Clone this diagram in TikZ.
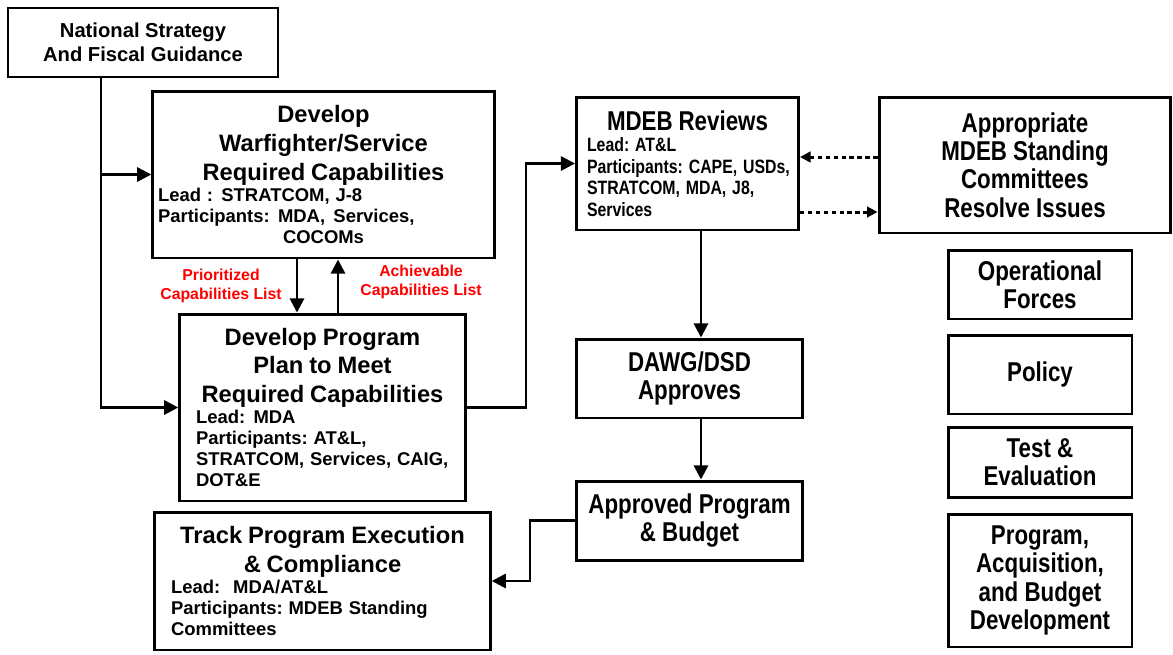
\documentclass[tikz,border=0pt]{standalone}
\usepackage{fontspec}
\setmainfont{Liberation Sans}
\newfontfamily\narrowbold[FakeStretch=0.82]{Liberation Sans Bold}
\usepackage{xcolor}
\usetikzlibrary{arrows.meta, positioning}
\frenchspacing

\newcommand{\headtxt}{\fontsize{13.5pt}{16.4pt}\selectfont\bfseries}
\newcommand{\infotxt}{\fontsize{10.5pt}{12pt}\selectfont\bfseries}
\newcommand{\narrowhead}{\narrowbold\fontsize{15.5pt}{16.2pt}\selectfont}
\newcommand{\narrowinfo}{\narrowbold\fontsize{11pt}{12.3pt}\selectfont}
\newcommand{\gap}{\hspace{0.45em}}

\begin{document}
\begin{tikzpicture}[
    x=0.02cm, y=-0.02cm,
    >={Triangle[length=8pt,width=8pt]},
    box/.style={
        rectangle,
        draw=black,
        line width=1.7pt,
        inner sep=3pt,
        align=center
    },
    infobox/.style={box, text width=#1},
    sidebox/.style={box, font=\narrowhead, minimum width=3.68cm},
    arrow/.style={->, line width=1.5pt},
    dotarrow/.style={->, line width=1.7pt, dash pattern=on 2.5pt off 2pt,
        >={Triangle[length=6pt,width=6pt]}},
    redlabel/.style={text=red, align=center,
        font=\fontsize{9pt}{10.5pt}\selectfont\bfseries}
]
\useasboundingbox (0,0) rectangle (1173,654);

% Nodes
\node (nat) [box, line width=1.2pt, minimum width=5.4cm, minimum height=1.38cm,
    font=\fontsize{11.5pt}{13.6pt}\selectfont\bfseries] at (143,42.5)
{National Strategy\\And Fiscal Guidance};

\node (dev) [infobox=6.62cm, minimum height=3.34cm] at (323.5,174.5)
{{\centering\headtxt Develop\\Warfighter/Service\\Required Capabilities\par}
{\raggedright\infotxt Lead :\gap STRATCOM, J-8\\
Participants:\gap MDA,\gap Services,\\
\hspace*{2.5cm}COCOMs\par}};

\node (plan) [infobox=5.5cm, minimum height=3.74cm] at (322.5,407.5)
{{\centering\headtxt Develop Program\\Plan to Meet\\Required Capabilities\par}
{\raggedright\leftskip=0.22cm\infotxt Lead:\gap MDA\\
Participants: AT\&L,\\
STRATCOM, Services, CAIG,\\
DOT\&E\par}};

\node (track) [infobox=6.5cm, minimum height=2.76cm] at (322.5,581)
{{\centering\headtxt Track Program Execution\\\& Compliance\par}
{\raggedright\leftskip=0.22cm\infotxt Lead:\hspace{0.7em}MDA/AT\&L\\
Participants: MDEB Standing\\
Committees\par}};

\node (mdeb) [infobox=4.3cm, inner sep=2pt, minimum height=2.66cm] at (687.5,163.5)
{{\centering\narrowhead MDEB Reviews\par}
{\raggedright\leftskip=0.14cm\narrowinfo Lead: AT\&L\\
Participants: CAPE, USDs,\\
STRATCOM, MDA, J8,\\
Services\par}};

\node (comm) [box, font=\narrowhead, minimum width=5.84cm, minimum height=2.72cm] at (1025,165)
{Appropriate\\MDEB Standing\\Committees\\Resolve Issues};

\node (dawg) [box, font=\narrowhead, minimum width=4.54cm, minimum height=1.58cm] at (689.5,378.5)
{DAWG/DSD\\Approves};

\node (appr) [box, font=\narrowhead, minimum width=4.54cm, minimum height=1.58cm] at (689.5,520.5)
{Approved Program\\\& Budget};

\node (opf) [sidebox, minimum height=1.38cm] at (1040,284.5) {Operational\\Forces};
\node (pol) [sidebox, minimum height=1.58cm] at (1040,374.5) {Policy};
\node (tev) [sidebox, minimum height=1.4cm] at (1040,462) {Test \&\\Evaluation};
\node (pab) [sidebox, minimum height=2.66cm] at (1040,580.5)
{Program,\\Acquisition,\\and Budget\\Development};

\node (pcl) [redlabel] at (221,286) {Prioritized\\Capabilities List};
\node (acl) [redlabel] at (421,282) {Achievable\\Capabilities List};

% Arrows
\coordinate (trunk) at (101,0);
\coordinate (down) at (297,0);
\coordinate (up) at (338,0);
\coordinate (bendA) at (526,0);
\coordinate (bendB) at (530,0);
\coordinate (col) at (701,0);
\coordinate (dotA) at (0,157);
\coordinate (dotB) at (0,212);

\draw [line width=1.5pt] (nat.south -| trunk) -- (trunk |- dev.west);
\draw [arrow] (trunk |- dev.west) -- (dev.west);
\draw [arrow] (trunk |- dev.west) |- (plan.west);

\draw [arrow] (dev.south -| down) -- (plan.north -| down);
\draw [arrow] (plan.north -| up) -- (dev.south -| up);

\draw [arrow] (plan.east) -| (bendA |- mdeb.west) -- (mdeb.west);
\draw [arrow] (mdeb.south -| col) -- (dawg.north -| col);
\draw [arrow] (dawg.south -| col) -- (appr.north -| col);
\draw [arrow] (appr.west) -| (bendB |- track.east) -- (track.east);

\draw [dotarrow] (comm.west |- dotA) -- (mdeb.east |- dotA);
\draw [dotarrow] (mdeb.east |- dotB) -- (comm.west |- dotB);

\end{tikzpicture}
\end{document}
